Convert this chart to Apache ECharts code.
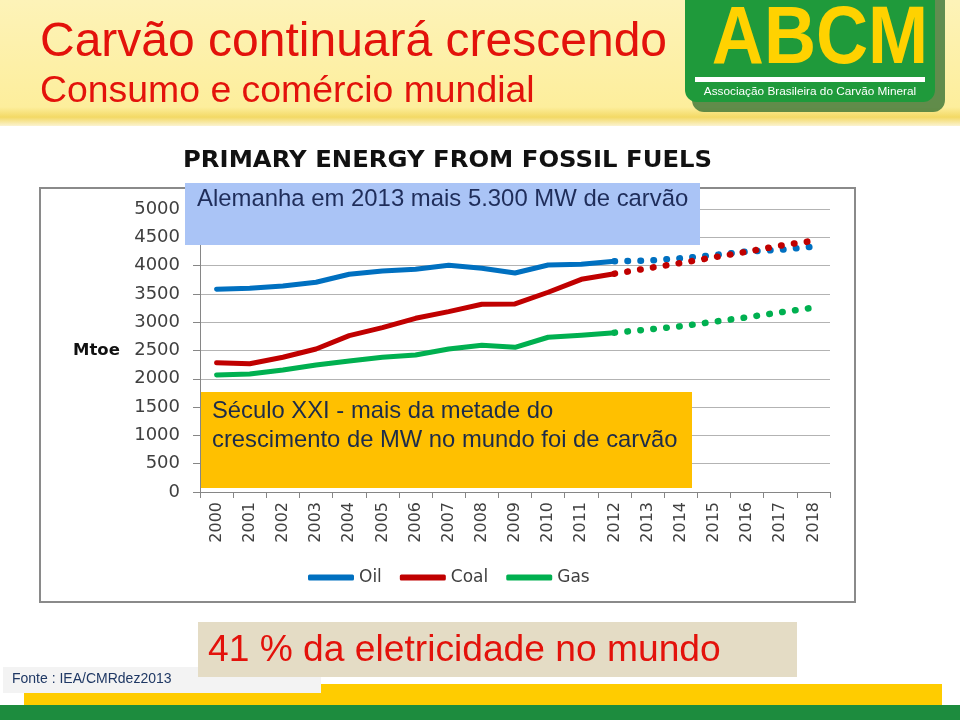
<!DOCTYPE html>
<html>
<head>
<meta charset="utf-8">
<script src="https://cdn.jsdelivr.net/npm/echarts@6/dist/echarts.min.js"></script>
<style>html,body{margin:0;padding:0;background:#fff;}#c{width:960px;height:720px;}</style>
</head>
<body>
<div id="c"></div>
<script>
// ---- data ----
const years = ['2000','2001','2002','2003','2004','2005','2006','2007','2008','2009','2010','2011','2012','2013','2014','2015','2016','2017','2018'];
const yTicks = [0,500,1000,1500,2000,2500,3000,3500,4000,4500,5000];
const seriesNames = ['Oil','Coal','Gas'];
// historical 2000-2012
const oilHist  = [3582,3600,3640,3705,3847,3905,3935,4006,3953,3870,4011,4023,4076];
const coalHist = [2285,2267,2380,2527,2762,2903,3069,3186,3317,3322,3529,3758,3857];
const gasHist  = [2067,2085,2156,2244,2315,2380,2421,2527,2592,2557,2734,2769,2815];
// projections 2013-2018
const oilProj  = [4088,4129,4185,4250,4280,4335];
const coalProj = [3952,4046,4147,4246,4353,4440];
const gasProj  = [2871,2928,3009,3087,3175,3257];

const colors = {Oil:'#0070C0', Coal:'#C00000', Gas:'#00B050'};

function projData(hist, proj){
  const arr = new Array(hist.length - 1).fill(null);
  arr.push(hist[hist.length-1]);
  return arr.concat(proj);
}
const histMap = {Oil:oilHist, Coal:coalHist, Gas:gasHist};
const projMap = {Oil:oilProj, Coal:coalProj, Gas:gasProj};

const series = [];
seriesNames.forEach(n => {
  series.push({
    name:n, type:'line', data:histMap[n], symbol:'none', silent:true, z:3,
    itemStyle:{color:colors[n]},
    lineStyle:{color:colors[n], width:5, cap:'round', join:'round'}
  });
});
seriesNames.forEach(n => {
  series.push({
    name:n+' proj', type:'line', data:projData(histMap[n], projMap[n]), symbol:'none', silent:true, z:4,
    itemStyle:{color:colors[n]},
    lineStyle:{color:colors[n], width:6.5, type:[0.5,12.5], cap:'round'}
  });
});

const F = 'Liberation Sans, Arial, sans-serif';
const graphics = [
  // header band
  {type:'rect', z:-20, shape:{x:0,y:0,width:960,height:126},
   style:{fill:{type:'linear',x:0,y:0,x2:0,y2:1,colorStops:[
     {offset:0,color:'#fdf3b8'},{offset:0.85,color:'#fdee9c'},{offset:0.93,color:'#f3d965'},{offset:1,color:'#fbf3d0'}]}}},
  // logo shadow & body
  {type:'rect', z:-15, shape:{x:692,y:-12,width:253,height:124,r:12}, style:{fill:'#2c6b2f', opacity:0.75}},
  {type:'rect', z:-14, shape:{x:685,y:-12,width:250,height:114,r:12}, style:{fill:'#1f9a3b'}},
  {type:'text', z:-13, x:820, y:40, scaleX:0.88,
   style:{text:'ABCM', font:'bold 82px '+F, fill:'#ffd200', textAlign:'center', textVerticalAlign:'middle'}},
  {type:'rect', z:-13, shape:{x:695,y:77,width:230,height:5}, style:{fill:'#ffffff'}},
  {type:'text', z:-13, x:810, y:92,
   style:{text:'Associação Brasileira do Carvão Mineral', font:'11.8px '+F, fill:'#ffffff', textAlign:'center', textVerticalAlign:'middle'}},
  // titles
  {type:'text', z:-12, x:40, y:43,
   style:{text:'Carvão continuará crescendo', font:'48px '+F, fill:'#e3120b', textAlign:'left', textVerticalAlign:'middle'}},
  {type:'text', z:-12, x:40, y:92,
   style:{text:'Consumo e comércio mundial', font:'37.4px '+F, fill:'#e3120b', textAlign:'left', textVerticalAlign:'middle'}},
  // chart frame
  {type:'rect', z:-10, shape:{x:40,y:188,width:815,height:414}, style:{fill:'#ffffff', stroke:'#8a8a8a', lineWidth:2}},
  {type:'text', z:-9, x:183, y:161, scaleX:1.058,
   style:{text:'PRIMARY ENERGY FROM FOSSIL FUELS', font:'bold 23px DejaVu Sans, sans-serif', fill:'#111111', textAlign:'left', textVerticalAlign:'middle'}},
  {type:'text', z:10, x:73, y:351,
   style:{text:'Mtoe', font:'bold 16.5px DejaVu Sans, sans-serif', fill:'#111111', textAlign:'left', textVerticalAlign:'middle'}},
  // annotation boxes
  {type:'rect', z:50, shape:{x:185,y:183,width:515,height:62}, style:{fill:'#aac4f6'}},
  {type:'text', z:51, x:197, y:199,
   style:{text:'Alemanha em 2013 mais 5.300 MW de carvão', font:'23.9px '+F, fill:'#1f2d5a', textAlign:'left', textVerticalAlign:'middle'}},
  {type:'rect', z:50, shape:{x:201,y:392,width:491,height:96}, style:{fill:'#ffc000'}},
  {type:'text', z:51, x:212, y:411,
   style:{text:'Século XXI - mais da metade do', font:'23.8px '+F, fill:'#1c2b4a', textAlign:'left', textVerticalAlign:'middle'}},
  {type:'text', z:51, x:212, y:440,
   style:{text:'crescimento de MW no mundo foi de carvão', font:'23.8px '+F, fill:'#1c2b4a', textAlign:'left', textVerticalAlign:'middle'}},
  // bottom
  {type:'rect', z:-10, shape:{x:24,y:684,width:918,height:22}, style:{fill:'#ffcc00'}},
  {type:'rect', z:-9, shape:{x:3,y:667,width:318,height:26}, style:{fill:'#f3f3f3'}},
  {type:'text', z:-8, x:12, y:679,
   style:{text:'Fonte : IEA/CMRdez2013', font:'14px '+F, fill:'#1f3864', textAlign:'left', textVerticalAlign:'middle'}},
  {type:'rect', z:-10, shape:{x:0,y:705,width:960,height:15}, style:{fill:'#1d8c3e'}},
  {type:'rect', z:-8, shape:{x:198,y:622,width:599,height:55}, style:{fill:'#e4dcc5'}},
  {type:'text', z:-7, x:208, y:651,
   style:{text:'41 % da eletricidade no mundo', font:'37.2px '+F, fill:'#e3120b', textAlign:'left', textVerticalAlign:'middle'}}
];

const option = {
  animation:false,
  backgroundColor:'#ffffff',
  color:[colors.Oil, colors.Coal, colors.Gas],
  grid:{left:200, top:209, width:630, height:283, containLabel:false},
  legend:{
    data:seriesNames, left:303, top:564, itemWidth:46, itemHeight:6, itemGap:18, icon:'roundRect',
    textStyle:{fontFamily:'DejaVu Sans, sans-serif', fontSize:17, color:'#404040'}, selectedMode:false
  },
  xAxis:{
    type:'category', data:years, boundaryGap:true,
    axisLine:{lineStyle:{color:'#868686', width:1}},
    axisTick:{show:true, length:6, alignWithLabel:false, lineStyle:{color:'#868686'}},
    axisLabel:{rotate:90, interval:0, margin:10, fontFamily:'DejaVu Sans, sans-serif', fontSize:16, color:'#404040'}
  },
  yAxis:{
    type:'value', min:yTicks[0], max:yTicks[yTicks.length-1], interval:500,
    axisLine:{show:true, lineStyle:{color:'#868686', width:1}},
    axisTick:{show:true, length:7, lineStyle:{color:'#868686'}},
    splitLine:{lineStyle:{color:'#b3b3b3', width:1}},
    axisLabel:{margin:20, fontFamily:'DejaVu Sans, sans-serif', fontSize:18, color:'#404040',
      formatter:function(v){return String(v);}}
  },
  series:series,
  graphic:{elements:graphics}
};

const chart = echarts.init(document.getElementById('c'), null, {renderer:'canvas'});
chart.setOption(option);
</script>
</body>
</html>
